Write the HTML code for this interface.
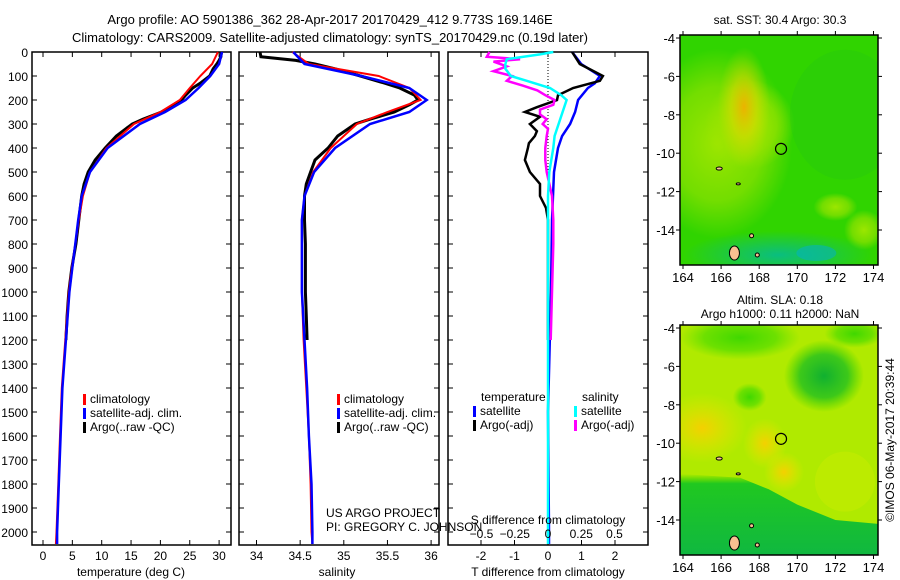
<!DOCTYPE html>
<html><head><meta charset="utf-8">
<style>
html,body{margin:0;padding:0;background:#fff;}
svg{display:block;font-family:"Liberation Sans",sans-serif;}
text{fill:#000;}
</style></head>
<body>
<svg id="fig" width="900" height="580" viewBox="0 0 900 580">
<defs>
<radialGradient id="g-orange" cx="50%" cy="50%" r="50%"><stop offset="0" stop-color="#f0b000" stop-opacity="0.95"/><stop offset="0.5" stop-color="#d8d800" stop-opacity="0.6"/><stop offset="1" stop-color="#c0e000" stop-opacity="0"/></radialGradient>
<radialGradient id="g-yellow" cx="50%" cy="50%" r="50%"><stop offset="0" stop-color="#a8e800" stop-opacity="0.9"/><stop offset="0.6" stop-color="#a0e400" stop-opacity="0.6"/><stop offset="1" stop-color="#a0e400" stop-opacity="0"/></radialGradient>
<radialGradient id="g-teal" cx="50%" cy="50%" r="50%"><stop offset="0" stop-color="#00b8a0" stop-opacity="0.8"/><stop offset="1" stop-color="#00b8a0" stop-opacity="0"/></radialGradient>
<radialGradient id="g-dkgreen" cx="50%" cy="50%" r="50%"><stop offset="0" stop-color="#10b030" stop-opacity="1"/><stop offset="0.6" stop-color="#20c020" stop-opacity="0.8"/><stop offset="1" stop-color="#30d000" stop-opacity="0"/></radialGradient>
<radialGradient id="g-ltgreen" cx="50%" cy="50%" r="50%"><stop offset="0" stop-color="#40d800" stop-opacity="1"/><stop offset="0.6" stop-color="#50dc00" stop-opacity="0.7"/><stop offset="1" stop-color="#60e000" stop-opacity="0"/></radialGradient>
<radialGradient id="g-sla-or" cx="50%" cy="50%" r="50%"><stop offset="0" stop-color="#f4d000" stop-opacity="1"/><stop offset="1" stop-color="#e8e800" stop-opacity="0"/></radialGradient>
<linearGradient id="g-sla-bottom" x1="0" y1="0" x2="0" y2="1"><stop offset="0" stop-color="#20d000" stop-opacity="0"/><stop offset="0.12" stop-color="#20c820" stop-opacity="1"/><stop offset="1" stop-color="#10b840" stop-opacity="1"/></linearGradient>
</defs>
<g id="titles">
<text x="330" y="24" font-size="13" text-anchor="middle">Argo profile: AO 5901386_362 28-Apr-2017 20170429_412 9.773S 169.146E</text>
<text x="330" y="42" font-size="13" text-anchor="middle">Climatology: CARS2009. Satellite-adjusted climatology: synTS_20170429.nc (0.19d later)</text>
</g>
<g id="panels"></g>
<g id="maps"></g>
<text transform="translate(894,440) rotate(-90)" font-size="12" text-anchor="middle">©IMOS 06-May-2017 20:39:44</text>
</svg>
<script>
// ---- data ----
const depthTicks = [0,100,200,300,400,500,600,700,800,900,1000,1100,1200,1300,1400,1500,1600,1700,1800,1900,2000];
const tempTicks = [0,5,10,15,20,25,30];
const salTicks = [34,34.5,35,35.5,36];
const diffTTicks = [-2,-1,0,1,2];
const diffSTicks = [-0.5,-0.25,0,0.25,0.5];

const climDepth = [0,50,100,150,200,250,300,400,500,600,700,800,900,1000,1200,1400,1600,1800,2000,2050];
const tempClim  = [29.8,28.8,26.8,25,23.3,20,15.5,10.8,8,6.8,6.1,5.5,4.9,4.4,3.8,3.2,2.9,2.6,2.3,2.2];
const tempSat   = [30.5,30,28.5,26.5,24.3,20.8,16.5,11,8,6.6,6.0,5.5,5.0,4.5,3.9,3.3,3.0,2.7,2.4,2.4];
const salClim   = [34.41,34.6,35.4,35.75,35.88,35.5,35.15,34.85,34.65,34.55,34.52,34.52,34.52,34.52,34.54,34.57,34.6,34.62,34.63,34.64];
const salSat    = [34.42,34.55,35.2,35.75,35.95,35.75,35.3,34.9,34.66,34.55,34.52,34.52,34.52,34.52,34.55,34.58,34.6,34.63,34.64,34.64];

const argoDepth = [0,20,35,50,70,100,130,150,180,200,220,250,280,300,350,400,450,500,550,600,700,800,900,1000,1100,1200];
const tempArgo  = [30.4,30.3,30.0,29.6,29.0,28.4,26.8,25.5,24.3,23.6,22.5,20.2,17,15.2,12.5,10.6,8.9,7.7,7.0,6.6,6.1,5.6,4.9,4.4,4.1,3.9];
const salArgo   = [34.04,34.05,34.45,34.67,34.9,35.19,35.47,35.64,35.81,35.85,35.75,35.58,35.3,35.13,34.93,34.82,34.67,34.62,34.57,34.55,34.55,34.56,34.56,34.56,34.57,34.58];

const dT_depth = [0,50,100,120,150,180,200,230,250,270,300,330,350,380,400,450,500,550,600,650,700,1000,1200];
const dT_argo  = [0.72,0.95,1.64,1.55,0.75,0.3,0.27,-0.33,-0.69,-0.24,-0.54,-0.33,-0.39,-0.57,-0.6,-0.69,-0.54,-0.24,-0.24,-0.06,0,0,0];
const dTs_depth = [0,50,100,130,150,200,250,300,350,400,450,500,600,700,1000,1500,2000,2050];
const dT_sat   = [0.72,0.99,1.55,1.4,1.19,0.9,0.81,0.66,0.42,0.3,0.24,0.18,0.15,0.12,0.09,0.0,0.03,0.03];
const dSs_depth = [0,10,30,50,70,100,120,150,180,200,250,300,350,400,500,600,1000,2000,2050];
const dS_sat   = [0.04,-0.06,-0.31,-0.32,-0.32,-0.28,-0.16,0.015,0.1,0.14,0.11,0.08,0.05,0.04,0.01,0,0,0,0];
const dSa_depth = [0,20,30,40,60,80,100,120,140,160,180,200,220,240,260,280,300,320,350,400,450,500,600,700,800,1000,1200];
const dS_argo  = [-0.44,-0.46,-0.21,-0.41,-0.31,-0.41,-0.27,-0.31,-0.19,-0.08,-0.02,0.05,0.04,-0.06,-0.06,-0.01,-0.04,0,-0.01,-0.02,-0.02,-0.01,0.03,0.04,0.04,0.03,0.02];

const mapLonTicks = [164,166,168,170,172,174];
const mapLatTicks = [-4,-6,-8,-10,-12,-14];
const argoLon = 169.146, argoLat = -9.773;

// ---- helpers ----
const NS = "http://www.w3.org/2000/svg";
function mk(tag, attrs, parent){ const e=document.createElementNS(NS,tag); for(const k in attrs) e.setAttribute(k,attrs[k]); parent.appendChild(e); return e; }
const PT=52, PB=545;
const yD = d => PT + d*0.24;
const panelsG = document.getElementById('panels');

function panel(name, x0, x1, xf, xticks, xlabels, showY){
  const g = mk('g',{},panelsG);
  
  
  const fr = mk('rect',{x:x0,y:PT,width:x1-x0,height:PB-PT,fill:'none',stroke:'#000','stroke-width':1.5},g);
  
  
  depthTicks.forEach(d=>{
    const y=yD(d);
    mk('line',{x1:x0,x2:x0+5,y1:y,y2:y,stroke:'#000'},g);
    mk('line',{x1:x1-5,x2:x1,y1:y,y2:y,stroke:'#000'},g);
    if(showY){
      const t=mk('text',{x:x0-4,y:y+5,'font-size':12,'text-anchor':'end'},g);
      t.textContent=d;
      
      
    }
  });
  xticks.forEach((v,i)=>{
    const x=xf(v);
    mk('line',{x1:x,x2:x,y1:PT,y2:PT+5,stroke:'#000'},g);
    mk('line',{x1:x,x2:x,y1:PB-5,y2:PB,stroke:'#000'},g);
    if(xlabels){
      const t=mk('text',{x:x,y:PB+15,'font-size':12,'text-anchor':'middle'},g);
      t.textContent=xlabels[i];
      
      
    }
  });
  return g;
}
function line(g, name, xs, ds, xf, color, w){
  const pts = xs.map((v,i)=>xf(v).toFixed(1)+','+yD(ds[i]).toFixed(1)).join(' ');
  const p = mk('polyline',{points:pts,fill:'none',stroke:color,'stroke-width':w,'stroke-linejoin':'miter'},g);
  
  
}
function txt(g,name,x,y,s,size,anchor){
  const t=mk('text',{x:x,y:y,'font-size':size||12,'text-anchor':anchor||'start'},g);
  t.textContent=s;
  
  
  return t;
}
function legend(g, x, y, color, label, name){
  const r=mk('rect',{x:x,y:y-9,width:3,height:11,fill:color},g);
  
  
  txt(g,name,x+7,y,label,12);
}

// ---- temperature panel ----
const xT = v => 43 + v*5.87;
const g1 = panel('temperature-panel',32,231,xT,tempTicks,tempTicks,true);
line(g1,'temp-argo-line',tempArgo,argoDepth,xT,'#000',3);
line(g1,'temp-clim-line',tempClim,climDepth,xT,'#f00',2);
line(g1,'temp-sat-line',tempSat,climDepth,xT,'#00f',2.5);
txt(g1,'temperature-axis-title',131,576,'temperature (deg C)',12,'middle');
legend(g1,83,403,'#f00','climatology','legend-climatology');
legend(g1,83,417,'#00f','satellite-adj. clim.','legend-satellite-adj');
legend(g1,83,431,'#000','Argo(..raw -QC)','legend-argo');

// ---- salinity panel ----
const xS = v => 256.5 + (v-34)*87.3;
const g2 = panel('salinity-panel',239,439,xS,salTicks,salTicks,false);
line(g2,'sal-argo-line',salArgo,argoDepth,xS,'#000',3);
line(g2,'sal-clim-line',salClim,climDepth,xS,'#f00',2);
line(g2,'sal-sat-line',salSat,climDepth,xS,'#00f',2.5);
txt(g2,'salinity-axis-title',337,576,'salinity',12,'middle');
legend(g2,337,403,'#f00','climatology','legend-climatology-2');
legend(g2,337,417,'#00f','satellite-adj. clim.','legend-satellite-adj-2');
legend(g2,337,431,'#000','Argo(..raw -QC)','legend-argo-2');
txt(g2,'project-label',326,517,'US ARGO PROJECT',12);
txt(g2,'pi-label',326,531,'PI: GREGORY C. JOHNSON',12);

// ---- difference panel ----
const xdT = v => 548 + v*33.5;
const xdS = v => 548 + v*133;
const g3 = panel('difference-panel',448,648,xdT,diffTTicks,diffTTicks,false);
mk('line',{x1:548,x2:548,y1:PT,y2:200,stroke:'#000','stroke-dasharray':'1,2'},g3);
line(g3,'dT-sat-line',dT_sat,dTs_depth,xdT,'#00f',2.5);
line(g3,'dT-argo-line',dT_argo,dT_depth,xdT,'#000',2.5);
line(g3,'dS-argo-line',dS_argo,dSa_depth,xdS,'#f0f',2.5);
line(g3,'dS-sat-line',dS_sat,dSs_depth,xdS,'#0ff',2.5);
txt(g3,'s-diff-axis-title',548,524,'S difference from climatology',12,'middle');
diffSTicks.forEach(v=>{ txt(g3,'s-tick-label',xdS(v),538,String(v).replace('-','\u2212'),12,'middle'); });
txt(g3,'t-diff-axis-title',548,576,'T difference from climatology',12,'middle');
txt(g3,'legend-temperature-heading',481,401,'temperature',12);
txt(g3,'legend-salinity-heading',582,401,'salinity',12);
legend(g3,473,415,'#00f','satellite','legend-t-satellite');
legend(g3,473,429,'#000','Argo(-adj)','legend-t-argo');
legend(g3,574,415,'#0ff','satellite','legend-s-satellite');
legend(g3,574,429,'#f0f','Argo(-adj)','legend-s-argo');

// ---- maps ----
const mapsG = document.getElementById('maps');
function map(name, top, bottom, title1, title2, kind){
  const L=680,R=878;
  const lon = v => 683 + (v-164)*19.05;
  const lat = v => top + 3 + (-4 - v)*19.2;
  const g = mk('g',{},mapsG);
  
  
  const cp = mk('clipPath',{id:'clip-'+name},g);
  mk('rect',{x:L,y:top,width:R-L,height:bottom-top},cp);
  const f = mk('g',{'clip-path':'url(#clip-'+name+')'},g);
  if(kind==='sst'){
    mk('rect',{x:L,y:top,width:R-L,height:bottom-top,fill:'#30d400'},f);
    mk('ellipse',{cx:lon(165.8),cy:lat(-9.5),rx:75,ry:95,fill:'url(#g-yellow)'},f);
    mk('ellipse',{cx:lon(167.5),cy:lat(-8.5),rx:45,ry:45,fill:'url(#g-yellow)'},f);
    mk('ellipse',{cx:lon(167.2),cy:lat(-7.6),rx:26,ry:60,fill:'url(#g-orange)'},f);
    mk('ellipse',{cx:lon(172),cy:lat(-12.8),rx:22,ry:14,fill:'url(#g-yellow)'},f);
    mk('ellipse',{cx:lon(173.5),cy:lat(-14),rx:20,ry:20,fill:'url(#g-yellow)'},f);
    mk('ellipse',{cx:lon(169),cy:lat(-15.3),rx:95,ry:24,fill:'url(#g-teal)'},f);
    mk('ellipse',{cx:lon(171),cy:lat(-15.2),rx:20,ry:8,fill:'#00b0d0','fill-opacity':0.5},f);
    mk('ellipse',{cx:lon(172.5),cy:lat(-8),rx:55,ry:65,fill:'#20c020','fill-opacity':0.2},f);
  } else {
    mk('rect',{x:L,y:top,width:R-L,height:bottom-top,fill:'#b0ea00'},f);
    mk('ellipse',{cx:lon(165),cy:lat(-9.2),rx:45,ry:35,fill:'url(#g-sla-or)'},f);
    mk('ellipse',{cx:lon(168.3),cy:lat(-10),rx:22,ry:25,fill:'url(#g-sla-or)'},f);
    mk('ellipse',{cx:lon(169.3),cy:lat(-11.5),rx:20,ry:20,fill:'url(#g-sla-or)'},f);
    mk('ellipse',{cx:lon(171.4),cy:lat(-6.5),rx:40,ry:36,fill:'url(#g-dkgreen)'},f);
    mk('ellipse',{cx:lon(167),cy:lat(-4.5),rx:60,ry:22,fill:'url(#g-ltgreen)'},f);
    mk('ellipse',{cx:lon(173),cy:lat(-4.3),rx:30,ry:14,fill:'url(#g-ltgreen)'},f);
    mk('ellipse',{cx:lon(167.5),cy:lat(-7.6),rx:17,ry:14,fill:'url(#g-ltgreen)'},f);
    mk('ellipse',{cx:lon(172.5),cy:lat(-12),rx:30,ry:30,fill:'#d8f000','fill-opacity':0.3},f);
    mk('path',{d:`M${L} ${lat(-11.6)} L${lon(167)} ${lat(-11.8)} L${lon(168.5)} ${lat(-12.4)} L${lon(170)} ${lat(-13.2)} L${lon(172)} ${lat(-14)} L${R} ${lat(-14.2)} L${R} ${bottom} L${L} ${bottom} Z`,fill:'url(#g-sla-bottom)'},f);
  }
  // islands
  [[166.7,-15.2,5,7],[167.6,-14.3,2,2],[167.9,-15.3,2,2],[165.9,-10.8,3,1.5],[166.9,-11.6,2,1]].forEach(a=>{
    const e=mk('ellipse',{cx:lon(a[0]),cy:lat(a[1]),rx:a[2],ry:a[3],fill:'#f8c090',stroke:'#000','stroke-width':1},f);
    
    
  });
  const c=mk('circle',{cx:lon(argoLon),cy:lat(argoLat),r:5.5,fill:'none',stroke:'#000','stroke-width':1.2},g);
  
  
  mk('rect',{x:L,y:top,width:R-L,height:bottom-top,fill:'none',stroke:'#000','stroke-width':1.5},g);
  mapLonTicks.forEach(v=>{
    const x=lon(v);
    mk('line',{x1:x,x2:x,y1:top-4,y2:top,stroke:'#000'},g);
    mk('line',{x1:x,x2:x,y1:bottom,y2:bottom+4,stroke:'#000'},g);
    txt(g,'lon-tick-label',x,bottom+17,String(v),13,'middle');
  });
  mapLatTicks.forEach(v=>{
    const y=lat(v);
    mk('line',{x1:L-4,x2:L,y1:y,y2:y,stroke:'#000'},g);
    mk('line',{x1:R,x2:R+4,y1:y,y2:y,stroke:'#000'},g);
    txt(g,'lat-tick-label',L-5,y+5,String(v),13,'end');
  });
  if(title2){
    txt(g,'map-title',780,top-21,title1,12,'middle');
    txt(g,'map-subtitle',780,top-7,title2,12,'middle');
  } else txt(g,'map-title',780,top-11,title1,12,'middle');
}
map('sst-map',35,265,'sat. SST: 30.4 Argo: 30.3',null,'sst');
map('sla-map',325,555,'Altim. SLA: 0.18','Argo h1000: 0.11 h2000: NaN','sla');
</script>
</body></html>
